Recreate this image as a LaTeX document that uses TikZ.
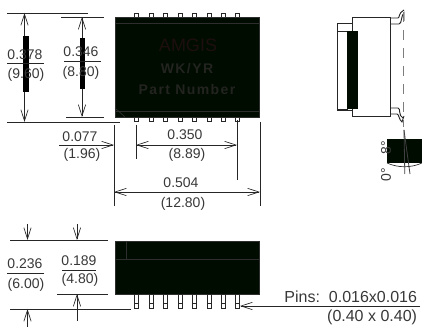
\documentclass[tikz,border=0pt]{standalone}
\usepackage{fontspec}
\setmainfont{Liberation Sans}
\newfontfamily\spacedbold[LetterSpace=10]{Liberation Sans Bold}
\usetikzlibrary{arrows.meta}
\definecolor{ink}{HTML}{262626}
\definecolor{label}{HTML}{383838}
\definecolor{bodyfill}{HTML}{000C00}
\definecolor{bodyline}{HTML}{2E2E2E}
\definecolor{markred}{HTML}{1E0F0F}
\definecolor{markgrey}{HTML}{232320}
\tikzset{
  every node/.style={inner sep=0pt,outer sep=0pt,text=label,font=\fontsize{10.5pt}{12pt}\selectfont},
  pinslabel/.style={font=\fontsize{12pt}{14pt}\selectfont},
  dim/.style={draw=ink,line width=0.5pt},
  ext/.style={draw=ink,line width=0.6pt},
  dimarrow/.style={draw=ink,line width=0.6pt,{Straight Barb[length=8.5pt,width=5.5pt,line width=0.5pt]}-{Straight Barb[length=8.5pt,width=5.5pt,line width=0.5pt]}},
  onearrow/.style={draw=ink,line width=0.6pt,-{Straight Barb[length=8.5pt,width=5.5pt,line width=0.5pt]}},
  chip/.style={draw=bodyline,line width=0.6pt,fill=bodyfill},
  inner/.style={draw=bodyline,line width=0.5pt},
  pin/.style={draw=ink,line width=0.6pt,fill=white},
  side/.style={draw=ink,line width=0.7pt},
  marking/.style={text=#1,font=\fontsize{10.5pt}{12pt}\spacedbold}
}
\begin{document}
\begin{tikzpicture}[x=0.75pt,y=-0.75pt]
\useasboundingbox (0,0) rectangle (422,327);
% top view body
\foreach \px in {136.7,151,165.3,180,194.5,209,223.3,237.5}{
  \draw[pin] (\px-2,13) rectangle (\px+2,17);
  \draw[pin] (\px-2,117) rectangle (\px+2,121);
}
\draw[chip] (115,17) rectangle (259,117);
\draw[inner] (115,23) -- (259,23);
\draw[inner] (115,111) -- (259,111);
\draw[inner] (115,108) -- (125,117);
\node[text=markred,font=\fontsize{13.5pt}{15pt}\selectfont] (amgis) at (188,45) {AMGIS};
\node[marking=markgrey] (wk) at (187,69) {WK/YR};
\node[marking=markgrey] (pn) at (187,90) {Part Number};
% left dimensions
\draw[ext] (7,13) -- (88,13);
\draw[ext] (7,122) -- (120,122);
\draw[ext] (61,17) -- (104,17);
\draw[ext] (66,117) -- (104,117);
\draw[dimarrow] (24.5,13) -- (24.5,122);
\draw[dimarrow] (82,17) -- (82,117);
\fill[black] (23,36) rectangle (29,92);
\fill[black] (79.5,38) rectangle (85,89);
\node (a1) at (25,55) {0.378};
\draw[dim] (7,63) -- (44,63);
\node (a2) at (26,74.5) {(9.60)};
\node (b1) at (81,52) {0.346};
\draw[dim] (64,61) -- (101,61);
\node (b2) at (81,73) {(8.80)};
% lower dimensions of top view
\draw[ext] (114,125) -- (114,206);
\draw[ext] (136,125) -- (136,159);
\draw[ext] (237,120) -- (237,180);
\draw[ext] (260,122) -- (260,206);
\draw[onearrow] (59,145) -- (114,145);
\node (c1) at (80,136.5) {0.077};
\node (c2) at (82,155) {(1.96)};
\draw[dimarrow] (136,145) -- (237,145);
\node (d1) at (185,135) {0.350};
\node (d2) at (187,155) {(8.89)};
\draw[dimarrow] (114,192) -- (260,192);
\node (e1) at (181,183) {0.504};
\node (e2) at (183,203.5) {(12.80)};
% side view
\draw[side,fill=white] (337,23) rectangle (352,110);
\draw[side] (337,31) -- (347,31);
\draw[side,fill=white] (352,17) rectangle (390,116);
\draw[side,fill=white] (337,31) rectangle (347,109);
\fill[bodyfill] (347,31) rectangle (358,109);
\draw[side] (390,18) -- (398,18) .. controls (400,18) and (398,13) .. (404,10);
\draw[side] (390,24) -- (399,24) .. controls (402,24) and (401,15) .. (404,13) -- (404,21);
\draw[side] (390,108) -- (398,108) .. controls (401,108) and (398,116) .. (403,118);
\draw[side] (390,114) -- (397,114) .. controls (399,114) and (399,120) .. (402,122) -- (404,116);
\draw[draw=ink!60,line width=0.7pt,dash pattern=on 7.5pt off 6pt] (403.3,12) -- (403.3,127);
% lead detail
\fill[bodyfill] (387,139) rectangle (422,163);
\draw[ink,line width=0.5pt] (387,163) .. controls (398,168) and (411,168) .. (422,163);
\draw[black!75,line width=0.6pt] (404,130) -- (404.8,174);
\draw[black!75,line width=0.6pt] (404,130) -- (410,174);
\node[rotate=90] (ang1) at (386,147.5) {8°};
\node[rotate=90] (ang2) at (386,175) {0°};
% end view
\draw[chip] (115,241) rectangle (259,294);
\draw[inner] (115,259) -- (259,259);
\draw[inner] (126,241) -- (126,259);
\foreach \px in {136.7,151,165.3,180,194.5,209,223.3,237.5}{
  \draw[pin] (\px-2,294) rectangle (\px+2,308);
  \draw[ink,line width=0.5pt] (\px-2,303) -- (\px+2,303);
}
\draw[ext] (10,240) -- (108,240);
\draw[ext] (57,294) -- (108,294);
\draw[ext] (10,309) -- (131,309);
\draw[onearrow] (27.5,224) -- (27.5,240);
\draw[onearrow] (77,224) -- (77,240);
\draw[onearrow] (27.5,327) -- (27.5,309);
\draw[onearrow] (77,321) -- (77,294);
\node (f1) at (25,264) {0.236};
\draw[dim] (7,273) -- (44,273);
\node (f2) at (26,285) {(6.00)};
\node (g1) at (79,261) {0.189};
\draw[dim] (62,270) -- (96,270);
\node (g2) at (80,280) {(4.80)};
\draw[onearrow] (420,306) -- (240,306);
\node[anchor=east,pinslabel] (h1) at (417,297) {Pins:\ \ 0.016x0.016};
\node[anchor=east,pinslabel] (h2) at (417,317) {(0.40 x 0.40)};
\end{tikzpicture}
\end{document}
